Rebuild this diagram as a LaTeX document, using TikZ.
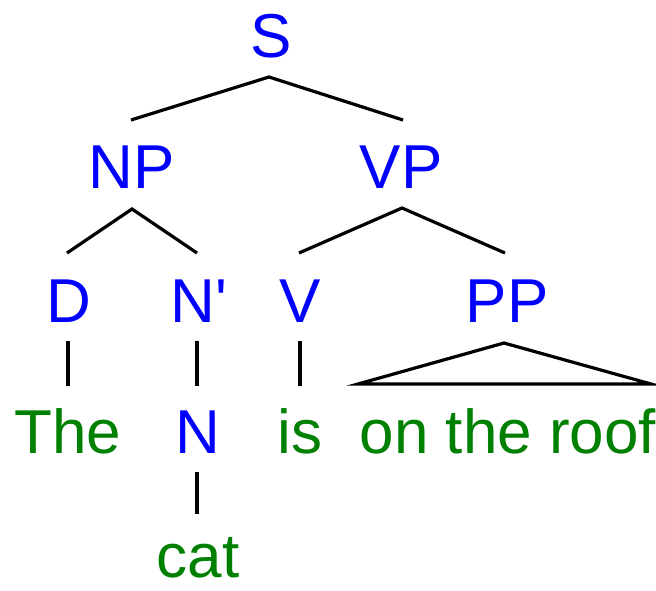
\documentclass[tikz,border=0pt]{standalone}
\usepackage{fontspec}
\setmainfont{Liberation Sans}
\definecolor{catblue}{RGB}{0,0,255}
\definecolor{wordgreen}{RGB}{0,128,0}
\begin{document}
\begin{tikzpicture}[x=1pt,y=-1pt,
  lbl/.style={inner sep=0pt,anchor=base,text=catblue,font=\fontsize{62}{62}\selectfont},
  word/.style={inner sep=0pt,anchor=base,text=wordgreen,font=\fontsize{62}{62}\selectfont},
  branch/.style={draw=black,line width=3.2pt}]
\useasboundingbox (0,0) rectangle (656,590);

% category labels
\node[lbl] (S)  at (271,57)  {S};
\node[lbl] (NP) at (132,188) {NP};
\node[lbl] (VP) at (401,188) {VP};
\node[lbl] (D)  at (69,322)  {D};
\node[lbl] (Nb) at (199,322) {N\textquotesingle};
\node[lbl] (V)  at (300,322) {V};
\node[lbl] (PP) at (507,322) {PP};
\node[lbl] (N)  at (198,453) {N};

% words
\node[word] (the)  at (68,453)  {The};
\node[word] (is)   at (300,453) {is};
\node[word] (roof) at (508,453) {on the roof};
\node[word] (cat)  at (198,577) {cat};

% branch end points
\coordinate (S-b)   at (269,77);
\coordinate (NP-t)  at (131,120);
\coordinate (VP-t)  at (403,120);
\coordinate (NP-b)  at (132,209);
\coordinate (D-t)   at (67,253);
\coordinate (Nb-t)  at (197,253);
\coordinate (VP-b)  at (402,208);
\coordinate (V-t)   at (299,253);
\coordinate (PP-t)  at (505,253);
\coordinate (D-b)   at (68,341);
\coordinate (the-t) at (68,386);
\coordinate (Nb-b)  at (197,341);
\coordinate (N-t)   at (197,386);
\coordinate (V-b)   at (300,341);
\coordinate (is-t)  at (300,386);
\coordinate (PP-b)  at (504,343);
\coordinate (roof-l) at (358,384);
\coordinate (roof-r) at (651,384);
\coordinate (N-b)   at (197,472);
\coordinate (cat-t) at (197,514);

% branches
\draw[branch] (NP-t) -- (S-b) -- (VP-t);
\draw[branch] (D-t) -- (NP-b) -- (Nb-t);
\draw[branch] (V-t) -- (VP-b) -- (PP-t);
\draw[branch] (D-b) -- (the-t);
\draw[branch] (Nb-b) -- (N-t);
\draw[branch] (V-b) -- (is-t);
\draw[branch] (N-b) -- (cat-t);
\draw[branch,line join=miter] (roof-l) -- (PP-b) -- (roof-r) -- cycle;
\end{tikzpicture}
\end{document}
